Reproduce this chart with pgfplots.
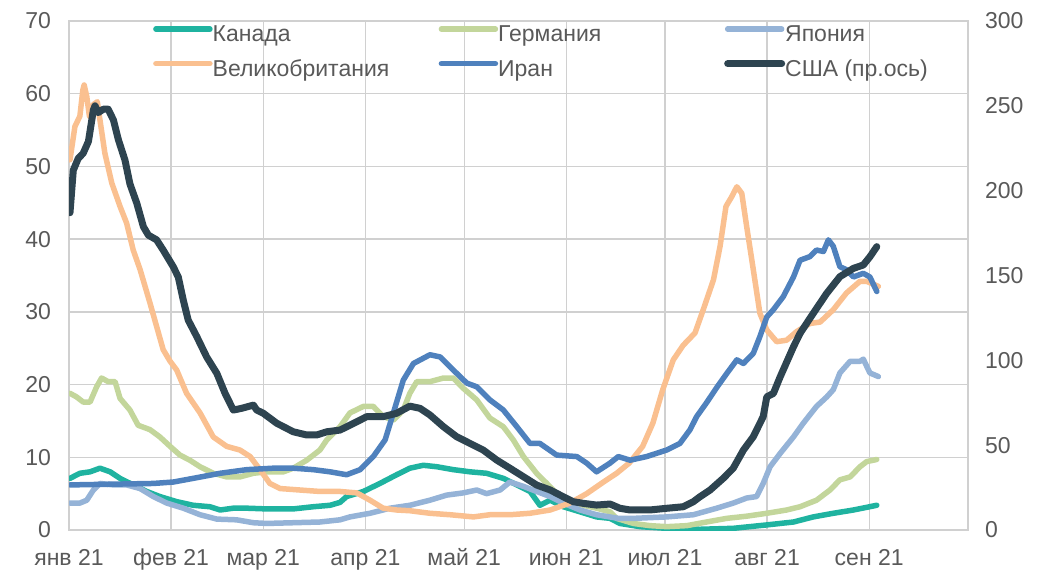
\documentclass[border=0pt]{standalone}
\usepackage{fontspec}
\setmainfont{Liberation Sans}
\usepackage{pgfplots}
\usepackage{pgfplotstable}
\pgfplotsset{compat=1.18}
\definecolor{cCan}{HTML}{1FB3A0}
\definecolor{cGer}{HTML}{C3D69B}
\definecolor{cJap}{HTML}{95B3D7}
\definecolor{cUK}{HTML}{FAC090}
\definecolor{cIran}{HTML}{4F81BD}
\definecolor{cUSA}{HTML}{2E4450}
\definecolor{cGrid}{HTML}{D0D0D0}
\definecolor{cText}{HTML}{595959}

% day of 2021 (0 = 1 Jan), value
\pgfplotstableread{
d v
0.3 7.1
3.3 7.8
6.4 8.0
9.4 8.5
12.5 8.0
15.5 7.1
19.5 6.2
23.6 5.3
27.6 4.6
32.7 3.9
37.7 3.4
42.8 3.2
45.9 2.75
49.9 3.0
54.0 3.0
60.0 2.9
68.1 2.9
74.2 3.2
79.3 3.4
82.3 3.8
84.3 4.6
89.4 5.3
94.4 6.4
99.5 7.6
103.5 8.5
107.6 8.9
111.7 8.7
116.7 8.3
121.8 8.0
126.8 7.8
131.9 7.1
136.0 6.2
140.0 5.3
143.0 3.4
146.1 4.1
150.1 3.2
155.2 2.5
160.2 1.8
164.3 1.6
167.3 0.9
173.4 0.46
181.5 0.23
191.6 0.1
201.7 0.23
211.9 0.7
220.0 1.1
226.0 1.8
232.1 2.3
238.2 2.75
245.3 3.4
}\canada

\pgfplotstableread{
d v
0.3 18.8
2.3 18.3
4.3 17.6
6.4 17.6
8.4 19.7
9.9 20.9
11.9 20.4
14.0 20.4
15.5 18.1
18.5 16.5
21.0 14.4
24.6 13.8
27.6 12.8
30.7 11.5
33.7 10.3
36.7 9.6
39.8 8.7
43.8 7.8
47.9 7.3
51.9 7.3
56.0 7.8
60.0 8.0
65.1 8.0
68.1 8.5
72.2 9.6
76.2 11.0
78.3 12.4
80.3 13.3
82.3 14.2
85.3 16.1
89.4 17.0
92.4 17.0
95.4 15.6
98.5 15.1
101.5 16.5
103.5 18.8
105.6 20.4
109.6 20.4
113.7 20.9
116.7 20.9
119.7 19.5
123.8 17.9
127.8 15.4
131.9 14.2
134.9 12.4
138.0 10.1
142.0 7.8
145.1 6.4
148.1 5.0
152.1 4.1
156.2 3.4
160.2 3.0
164.3 2.5
166.3 1.6
171.4 0.9
176.4 0.6
181.5 0.46
187.6 0.6
193.6 1.1
199.7 1.6
205.8 1.9
211.9 2.3
217.9 2.75
222.0 3.2
227.0 4.1
231.1 5.5
234.1 6.9
237.2 7.3
240.2 8.7
242.2 9.4
245.3 9.7
}\germany

\pgfplotstableread{
d v
0.3 3.7
3.3 3.7
5.4 4.1
7.4 5.5
9.4 6.4
13.5 6.2
17.5 6.2
21.6 5.7
25.6 4.6
29.7 3.7
34.7 3.0
39.8 2.1
44.9 1.5
50.9 1.4
56.0 1.0
60.0 0.9
68.1 1.0
76.2 1.1
82.3 1.4
85.3 1.8
91.4 2.3
97.5 3.0
103.5 3.4
109.6 4.1
114.7 4.8
119.7 5.1
123.8 5.5
126.8 5.0
130.9 5.5
133.9 6.6
138.0 6.0
142.0 5.3
146.1 4.6
150.1 3.7
155.2 2.75
160.2 2.1
166.8 1.6
171.4 1.6
181.5 1.8
189.6 2.1
196.7 3.0
201.7 3.7
205.8 4.4
208.8 4.6
210.8 6.4
212.9 8.7
215.9 10.5
220.0 12.8
223.0 14.7
227.0 17.0
230.1 18.3
232.1 19.3
234.1 21.6
237.2 23.2
240.2 23.2
241.2 23.5
243.2 21.6
245.8 21.1
}\japan

\pgfplotstableread{
d v
0.3 50.9
1.8 55.5
3.3 56.9
4.2 60.5
4.6 61.2
5.4 59.6
6.2 56.9
7.4 58.5
8.6 58.9
9.4 56.4
10.9 51.8
13.0 47.7
15.5 44.5
17.5 42.2
19.5 38.5
21.6 35.8
24.6 31.2
26.6 28.0
28.6 24.8
30.7 23.2
32.7 22.0
35.7 18.8
39.8 16.1
43.8 12.8
47.9 11.5
51.9 11.0
55.0 10.1
58.0 8.3
61.0 6.4
64.1 5.7
70.1 5.5
76.2 5.3
82.3 5.3
87.4 5.1
91.4 4.1
95.4 3.0
99.5 2.75
103.5 2.65
109.6 2.3
115.7 2.1
122.8 1.8
127.8 2.1
133.9 2.1
140.0 2.3
146.1 2.75
152.1 3.7
157.2 5.0
162.3 6.6
166.3 7.8
170.1 9.2
174.2 11.5
177.3 14.7
180.3 19.3
183.5 23.4
186.5 25.4
190.1 27.1
192.6 30.3
195.7 34.4
197.7 39.0
199.5 44.5
201.2 45.8
202.8 47.2
204.3 46.3
205.8 41.7
207.8 35.8
209.8 29.8
211.9 27.5
214.9 25.9
217.9 26.1
221.0 27.3
225.0 28.4
228.1 28.6
232.1 30.3
236.1 32.6
240.2 34.2
242.2 34.2
245.8 33.5
}\uk

\pgfplotstableread{
d v
0.3 6.2
25.6 6.4
31.7 6.6
37.7 7.1
45.9 7.8
54.0 8.3
62.0 8.5
68.1 8.5
74.2 8.3
79.3 8.0
84.3 7.6
88.4 8.3
92.4 10.1
96.0 12.4
98.5 16.1
101.5 20.6
104.6 22.9
109.6 24.1
112.7 23.8
116.7 22.0
120.8 20.2
123.8 19.7
127.8 17.9
131.9 16.5
136.0 14.2
140.0 11.9
143.0 11.9
148.1 10.3
154.2 10.1
157.2 9.2
160.2 8.0
164.3 9.2
166.8 10.1
170.4 9.6
175.4 10.1
181.5 11.0
185.5 11.9
188.6 13.8
190.6 15.6
193.6 17.5
196.7 19.6
199.7 21.5
202.8 23.4
204.8 22.9
207.8 24.3
209.8 26.6
211.9 29.3
213.9 30.3
216.9 32.1
220.0 34.8
222.0 37.1
225.0 37.6
227.0 38.5
229.1 38.3
230.6 39.9
232.1 39.0
234.1 36.2
236.1 35.8
238.2 34.8
241.2 35.3
243.2 34.8
245.3 32.8
}\iran

\pgfplotstableread{
d v
0.3 187
1.3 212
2.8 219
4.3 222
5.9 229
7.4 247.5
7.9 250
8.9 246
10.4 248
11.9 248
13.5 241.6
15.0 230
17.0 218
18.5 204
20.6 192.5
22.6 178.7
24.1 173.8
26.6 171
28.6 165
31.7 155
33.2 149
34.7 135.5
36.2 123.7
38.8 114
41.8 102
44.9 92.3
47.4 80.5
49.9 70.7
52.4 71.7
56.0 73.6
57.0 70.7
59.0 68.8
63.1 62.9
68.1 57.9
72.2 56
75.2 56
78.3 57.9
82.3 58.9
87.4 63.8
90.4 66.8
95.4 66.8
99.5 68.8
103.5 73
106.6 71.7
109.6 67.8
113.7 60.9
117.7 55
121.8 51
125.8 47.1
129.9 41.2
133.9 36.4
138.0 31.4
142.0 26.5
146.1 23.6
150.1 19.6
153.1 16.7
156.2 15.7
160.2 14.7
164.3 15.3
167.3 12.8
170.4 11.8
176.4 11.8
181.5 12.8
186.5 13.7
189.6 16.7
191.6 19.6
194.7 23.6
198.7 30.5
201.7 36.4
204.8 47.1
207.8 55
210.8 66.8
211.9 78.5
213.9 80.5
215.9 90
220.0 108
222.0 115.9
226.0 127.7
230.1 139.5
234.1 149.3
238.2 154.2
241.2 156.2
243.2 161
245.3 167
}\usa

\pgfplotsset{
  common/.style={
    scale only axis, width=899pt, height=509pt,
    xmin=0, xmax=273,
    font=\fontsize{23}{27}\selectfont,
    /pgf/number format/assume math mode=true,
    major tick length=0pt,
    ticklabel style={text=cText},
    every axis plot/.append style={line join=round, line cap=round, mark=none},
  },
  legend image code/.code={\draw[#1] (0pt,6.8pt) -- (54pt,6.8pt);},
}

\begin{document}
\begin{tikzpicture}
\begin{axis}[common, name=main,
  ymin=0, ymax=70, ytick={0,10,...,70},
  xtick={0,31,59,90,120,151,181,212,243,273},
  xticklabels={янв 21, фев 21, мар 21, апр 21, май 21, июн 21, июл 21, авг 21, сен 21, {}},
  grid=major, grid style={cGrid, line width=1.3pt},
  axis line style={cGrid, line width=1.3pt},
  yticklabel style={xshift=-14.5pt},
  xticklabel style={text height=16.5pt, text depth=5pt, yshift=-15.5pt},
]
\addplot[cCan, line width=5.5pt] table[x=d, y=v] {\canada};
\addplot[cGer, line width=5.5pt] table[x=d, y=v] {\germany};
\addplot[cJap, line width=5.5pt] table[x=d, y=v] {\japan};
\addplot[cUK, line width=5.5pt] table[x=d, y=v] {\uk};
\addplot[cIran, line width=5.5pt] table[x=d, y=v] {\iran};
\end{axis}
\begin{axis}[common,
  ymin=0, ymax=300, ytick={0,50,...,300},
  hide x axis, axis y line*=right, y axis line style={draw=none},
  yticklabel style={xshift=13.5pt},
  legend columns=3,
  legend cell align=left,
  legend style={at={(0.0934,1)}, anchor=north west, yshift=-2pt,
    draw=none, fill=none, inner sep=0pt, row sep=9pt,
    nodes={inner xsep=0pt, inner ysep=2pt, text height=16.5pt, text depth=5pt, text=cText},
    /tikz/every even column/.append style={column sep=48pt}},
]
\addlegendimage{cCan, line width=5.5pt}
\addlegendentry{\makebox[178pt][l]{Канада}}
\addlegendimage{cGer, line width=5.5pt}
\addlegendentry{\makebox[178pt][l]{Германия}}
\addlegendimage{cJap, line width=5.5pt}
\addlegendentry{\makebox[178pt][l]{Япония}}
\addlegendimage{cUK, line width=5.5pt}
\addlegendentry{\makebox[178pt][l]{Великобритания}}
\addlegendimage{cIran, line width=5.5pt}
\addlegendentry{\makebox[178pt][l]{Иран}}
\addplot[cUSA, line width=7pt] table[x=d, y=v] {\usa};
\addlegendentry{\makebox[178pt][l]{США (пр.ось)}}
\end{axis}
\path (main.south west) ++(-69pt,-43pt) rectangle ++(1056pt,573pt);
\end{tikzpicture}
\end{document}
